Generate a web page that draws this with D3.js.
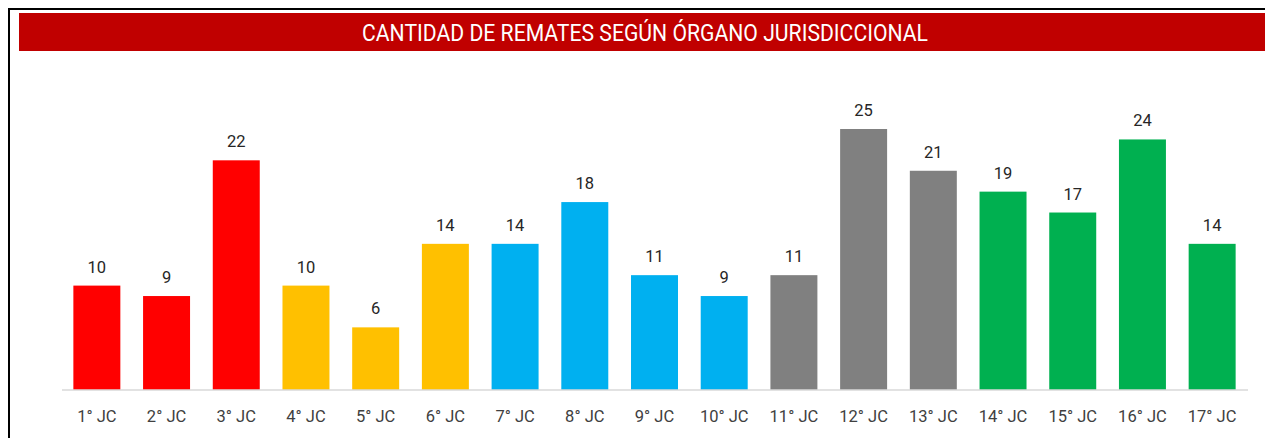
<!DOCTYPE html>
<meta charset="utf-8">
<style>
  body { margin: 0; background: #fff; }
  svg { display: block; }
</style>
<body>
  <svg width="1265" height="438"></svg>
  <script src="https://cdn.jsdelivr.net/npm/d3@7"></script>
  <script>
    const title = "CANTIDAD DE REMATES SEGÚN ÓRGANO JURISDICCIONAL";
    const categories = ["1° JC", "2° JC", "3° JC", "4° JC", "5° JC", "6° JC", "7° JC", "8° JC", "9° JC",
      "10° JC", "11° JC", "12° JC", "13° JC", "14° JC", "15° JC", "16° JC", "17° JC"];
    const values = [10, 9, 22, 10, 6, 14, 14, 18, 11, 9, 11, 25, 21, 19, 17, 24, 14];
    const groups = ["a", "a", "a", "b", "b", "b", "c", "c", "c", "c", "d", "d", "d", "e", "e", "e", "e"];

    const svg = d3.select("svg"),
      width = +svg.attr("width"),
      height = +svg.attr("height");

    // outer frame
    svg.append("rect")
      .attr("x", 9).attr("y", 9)
      .attr("width", width + 10).attr("height", height + 10)
      .attr("fill", "none").attr("stroke", "#000").attr("stroke-width", 2);

    // title band
    svg.append("rect")
      .attr("x", 19).attr("y", 13)
      .attr("width", width - 19).attr("height", 38)
      .attr("fill", "#C00000");

    svg.append("text")
      .attr("x", 645).attr("y", 41)
      .attr("text-anchor", "middle")
      .attr("fill", "#fff")
      .attr("font-family", "Roboto, sans-serif")
      .attr("font-size", 23)
      .attr("textLength", 566)
      .attr("lengthAdjust", "spacingAndGlyphs")
      .text(title);

    const x = d3.scaleBand()
      .domain(categories)
      .range([62, 1247])
      .paddingInner(0.326)
      .paddingOuter(0.163);

    const y = d3.scaleLinear()
      .domain([0, 25])
      .range([390, 129]);

    const color = d3.scaleOrdinal()
      .domain(["a", "b", "c", "d", "e"])
      .range(["#FF0000", "#FFC000", "#00B0F0", "#808080", "#00B050"]);

    const g = svg.append("g");

    g.selectAll(".bar")
      .data(values)
      .enter().append("rect")
      .attr("class", "bar")
      .attr("x", (d, i) => x(categories[i]))
      .attr("width", x.bandwidth())
      .attr("y", d => y(d))
      .attr("height", d => y(0) - y(d))
      .attr("fill", (d, i) => color(groups[i]));

    g.selectAll(".val")
      .data(values)
      .enter().append("text")
      .attr("class", "val")
      .attr("x", (d, i) => x(categories[i]) + x.bandwidth() / 2)
      .attr("y", d => y(d) - 13)
      .attr("text-anchor", "middle")
      .attr("font-family", "Roboto, sans-serif")
      .attr("font-size", 16.5)
      .attr("fill", "#262626")
      .text(d => d);

    const axis = svg.append("g")
      .attr("transform", "translate(0," + y(0) + ")")
      .call(d3.axisBottom(x).tickSize(0).tickPadding(20));

    axis.select(".domain").attr("stroke", "#D9D9D9").attr("stroke-width", 1.5)
      .attr("d", "M62,0H1248");
    axis.selectAll("text")
      .attr("font-family", "Roboto, sans-serif")
      .attr("font-size", 16.5)
      .attr("fill", "#404040");
  </script>
</body>
